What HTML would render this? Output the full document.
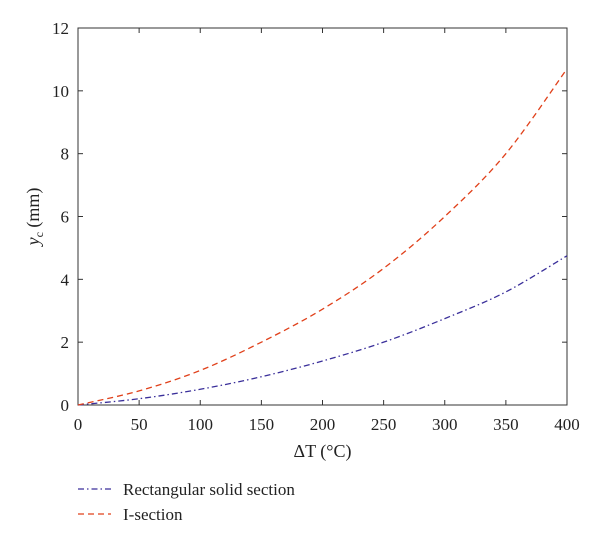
<!DOCTYPE html>
<html><head><meta charset="utf-8"><style>
body{margin:0;background:#fff}
svg{display:block;font-family:"Liberation Serif",serif}
</style></head><body>
<svg width="600" height="539" viewBox="0 0 600 539">
<g id="axes"></g>
<g id="series"></g>
<g>
  <line x1="78" y1="489" x2="111" y2="489" stroke="#3a2f9a" stroke-width="1.3" stroke-dasharray="6,3,1.5,3"/>
  <text x="123" y="495" font-size="17" fill="#222">Rectangular solid section</text>
  <line x1="78" y1="514" x2="111" y2="514" stroke="#e0401a" stroke-width="1.3" stroke-dasharray="6,4"/>
  <text x="123" y="520" font-size="17" fill="#222">I-section</text>
</g>
</svg>
<script>
const xValues=[0,50,100,150,200,250,300,350,400];
const rectValues=[0,0.2,0.5,0.9,1.4,2.0,2.75,3.6,4.75];
const iValues=[0,0.45,1.1,2.0,3.05,4.35,6.0,8.0,10.7];
const xTicks=[0,50,100,150,200,250,300,350,400];
const yTicks=[0,2,4,6,8,10,12];
const L=78,R=567,T=28,B=405;
const sx=v=>L+(v-0)/400*(R-L);
const sy=v=>B-(v-0)/12*(B-T);
const NS="http://www.w3.org/2000/svg";
const axes=document.getElementById('axes'),ser=document.getElementById('series');
function mk(tag,attrs,parent){const e=document.createElementNS(NS,tag);for(const k in attrs)e.setAttribute(k,attrs[k]);parent.appendChild(e);return e;}
const frame=mk('rect',{x:L,y:T,width:R-L,height:B-T,fill:'none',stroke:'#333','stroke-width':1},axes);


xTicks.forEach(v=>{
  const x=sx(v);
  const t1=mk('line',{x1:x,y1:B,x2:x,y2:B-5,stroke:'#333'},axes);
  
  
  const t2=mk('line',{x1:x,y1:T,x2:x,y2:T+5,stroke:'#333'},axes);
  
  
  const lb=mk('text',{x:x,y:B+25,'font-size':17,'text-anchor':'middle',fill:'#222'},axes);
  lb.textContent=v;
  
  
});
yTicks.forEach(v=>{
  const y=sy(v);
  const t1=mk('line',{x1:L,y1:y,x2:L+5,y2:y,stroke:'#333'},axes);
  
  
  const t2=mk('line',{x1:R,y1:y,x2:R-5,y2:y,stroke:'#333'},axes);
  
  
  const lb=mk('text',{x:L-9,y:y+6,'font-size':17,'text-anchor':'end',fill:'#222'},axes);
  lb.textContent=v;
  
  
});
const xt=mk('text',{x:(L+R)/2,y:B+52,'font-size':18,'text-anchor':'middle',fill:'#222'},axes);
xt.innerHTML='ΔT (°C)';


const yt=mk('text',{transform:`translate(39,${(T+B)/2}) rotate(-90)`,'font-size':18,'text-anchor':'middle',fill:'#222'},axes);
yt.innerHTML='<tspan font-style="italic">y</tspan><tspan font-size="12" dy="4">c</tspan><tspan dy="-4"> (mm)</tspan>';


function curve(vals){
  const p=xValues.map((x,i)=>[sx(x),sy(vals[i])]);
  let d=`M${p[0][0]},${p[0][1]}`;
  for(let i=0;i<p.length-1;i++){
    const p0=p[Math.max(0,i-1)],p1=p[i],p2=p[i+1],p3=p[Math.min(p.length-1,i+2)];
    d+=` C${p1[0]+(p2[0]-p0[0])/6},${p1[1]+(p2[1]-p0[1])/6} ${p2[0]-(p3[0]-p1[0])/6},${p2[1]-(p3[1]-p1[1])/6} ${p2[0]},${p2[1]}`;
  }
  return d;
}
const r=mk('path',{d:curve(rectValues),fill:'none',stroke:'#3a2f9a','stroke-width':1.3,'stroke-dasharray':'6,3,1.5,3'},ser);


const s=mk('path',{d:curve(iValues),fill:'none',stroke:'#e0401a','stroke-width':1.3,'stroke-dasharray':'6,4'},ser);


</script>
</body></html>
